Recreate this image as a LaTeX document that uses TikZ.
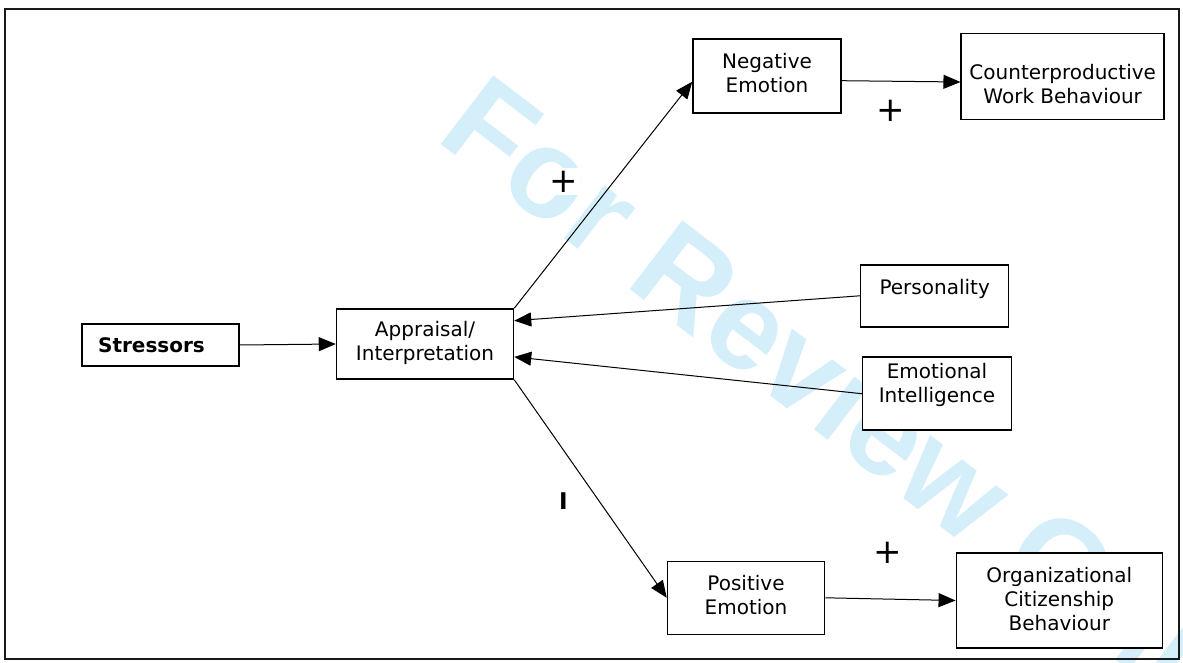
\documentclass[tikz,border=0pt]{standalone}
\usepackage{fontspec}
\setmainfont{DejaVu Sans}
\newfontfamily\wmfont{Liberation Sans}
\usetikzlibrary{arrows.meta}
\definecolor{wmblue}{RGB}{212,238,250}
\tikzset{
  box/.style={draw=black, line width=1.5pt, fill=white, inner sep=0pt},
  lbl/.style={align=center, inner sep=0pt, font=\fontsize{20}{24}\selectfont},
  conn/.style={line width=1pt, -{Triangle[length=17pt,width=14pt]}},
  sign/.style={font=\fontsize{34}{34}\selectfont, fill=white, inner sep=3pt},
  frame/.style={draw=black!90, line width=2pt}
}
\begin{document}
\begin{tikzpicture}[x=1pt,y=-1pt]
\useasboundingbox (0,0) rectangle (1183,663);
% watermark
\begin{scope}
\clip (0,0) rectangle (1183,663);
\node[anchor=base west, inner sep=0pt, rotate=-37.4, text=wmblue,
  font=\wmfont\bfseries\fontsize{126}{126}\selectfont] (wm) at (434.6,139.5) {For Review Only};
\end{scope}
% frame
\draw[frame] (4.5,9) rectangle (1179,659);
% boxes
\node[box, minimum width=157pt, minimum height=42pt,
  label={[lbl, xshift=-9pt]center:\textbf{Stressors}}] (str) at (160.5,345) {};
\node[box, minimum width=177pt, minimum height=70pt,
  label={[lbl, yshift=1pt]center:Appraisal/\\Interpretation}] (app) at (425,344) {};
\node[box, minimum width=148pt, minimum height=74pt,
  label={[lbl, yshift=3.3pt]center:Negative\\Emotion}] (neg) at (767,76) {};
\node[box, minimum width=203pt, minimum height=86pt,
  label={[lbl, yshift=-8pt]center:Counterproductive\\Work Behaviour}] (cwb) at (1062.7,76.3) {};
\node[box, minimum width=148pt, minimum height=62pt,
  label={[lbl, yshift=7pt]center:Personality}] (pers) at (934.7,295.8) {};
\node[box, minimum width=149pt, minimum height=73pt,
  label={[lbl, yshift=8.7pt]center:Emotional\\Intelligence}] (ei) at (937,393.7) {};
\node[box, minimum width=157pt, minimum height=73pt,
  label={[lbl, yshift=3pt]center:Positive\\Emotion}] (pos) at (746,597.8) {};
\node[box, minimum width=206pt, minimum height=95pt,
  label={[lbl, yshift=1.5pt]center:Organizational\\Citizenship\\Behaviour}] (ocb) at (1059.3,600.5) {};
% connectors
\draw[conn] (str.east) -- (app.west);
\draw[conn] (app.north east) -- ([yshift=-5.7pt]neg.west);
\draw[conn] ([yshift=-4.7pt]neg.east) -- ([yshift=-5.7pt]cwb.west);
\draw[conn] (pers.west) -- ([yshift=23.3pt]app.east);
\draw[conn] (ei.west) -- ([yshift=-12.9pt]app.east);
\draw[conn] (app.south east) -- (pos.west);
\draw[conn] (pos.east) -- (ocb.west);
% signs
\node[sign] (s1) at (564,181.5) {+};
\node[sign] (s2) at (891,111) {+};
\node[sign] (s3) at (887.7,553) {+};
\node[inner sep=0pt, font=\bfseries\fontsize{23}{23}\selectfont] (s4) at (563.5,501.5) {I};
\end{tikzpicture}
\end{document}
